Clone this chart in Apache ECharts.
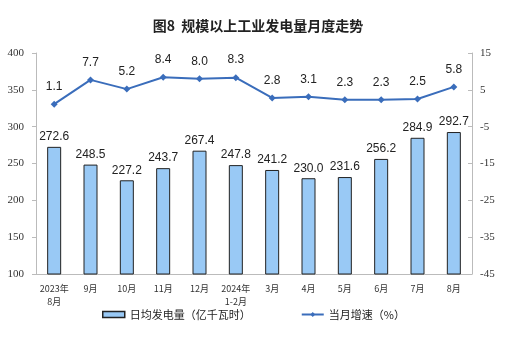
<!DOCTYPE html>
<html><head><meta charset="utf-8">
<script src="https://cdn.jsdelivr.net/npm/echarts@6/dist/echarts.min.js"></script>
<style>html,body{margin:0;padding:0;background:#fff}#c{width:516px;height:337px}</style>
</head><body><div id="c"></div>
<script>
const categories = ['2023年\n8月','9月','10月','11月','12月','2024年\n1-2月','3月','4月','5月','6月','7月','8月'];
const dailyOutput = [272.6,248.5,227.2,243.7,267.4,247.8,241.2,230.0,231.6,256.2,284.9,292.7];
const growth = [1.1,7.7,5.2,8.4,8.0,8.3,2.8,3.1,2.3,2.3,2.5,5.8];
const leftTicks = [100,150,200,250,300,350,400];
const rightTicks = [-45,-35,-25,-15,-5,5,15];

const chart = echarts.init(document.getElementById('c'));
chart.setOption({
  animation:false,
  title:{text:'图8  规模以上工业发电量月度走势',left:'center',top:14,textStyle:{fontSize:14,fontWeight:'bold',color:'#222',fontFamily:'Noto Sans CJK SC'}},
  grid:{left:36,right:44,top:53,bottom:63},
  legend:{bottom:12,left:97,itemGap:50,textStyle:{fontSize:11,color:'#222',fontFamily:'Noto Sans CJK SC'},
    data:[{name:'日均发电量（亿千瓦时）',icon:'rect',itemStyle:{borderColor:'#222',borderWidth:1.5}},{name:'当月增速（%）'}],
    itemWidth:22,itemHeight:6},
  xAxis:{type:'category',data:categories,
    axisLine:{onZero:false,lineStyle:{color:'#bbb'}},
    axisTick:{inside:true,length:4,lineStyle:{color:'#bbb'}},
    axisLabel:{interval:0,fontSize:9,color:'#333',fontFamily:'Noto Sans CJK SC',lineHeight:13,margin:8}},
  yAxis:[
    {type:'value',min:100,max:400,interval:50,
     axisLine:{show:true,lineStyle:{color:'#bbb'}},axisTick:{show:true,length:4,lineStyle:{color:'#bbb'}},
     splitLine:{show:false},
     axisLabel:{fontSize:11,color:'#333',fontFamily:'Liberation Serif',margin:12}},
    {type:'value',min:-45,max:15,interval:10,
     axisLine:{show:true,lineStyle:{color:'#bbb'}},axisTick:{show:true,inside:true,length:4,lineStyle:{color:'#bbb'}},
     splitLine:{show:false},
     axisLabel:{fontSize:11,color:'#333',fontFamily:'Liberation Serif',margin:8}}
  ],
  series:[
    {name:'日均发电量（亿千瓦时）',type:'bar',data:dailyOutput,barWidth:14,
     itemStyle:{color:'#99c9f5',borderColor:'#222',borderWidth:1},
     label:{show:true,position:'top',fontSize:12,color:'#222',fontFamily:'Liberation Sans',formatter:p=>p.value.toFixed(1),distance:4}},
    {name:'当月增速（%）',type:'line',yAxisIndex:1,data:growth,
     symbol:'diamond',symbolSize:7,
     lineStyle:{color:'#3a6dbb',width:2},itemStyle:{color:'#3a6dbb'},
     label:{show:true,position:'top',fontSize:12,color:'#222',fontFamily:'Liberation Sans',formatter:p=>p.value.toFixed(1),distance:8}}
  ]
});
</script></body></html>
